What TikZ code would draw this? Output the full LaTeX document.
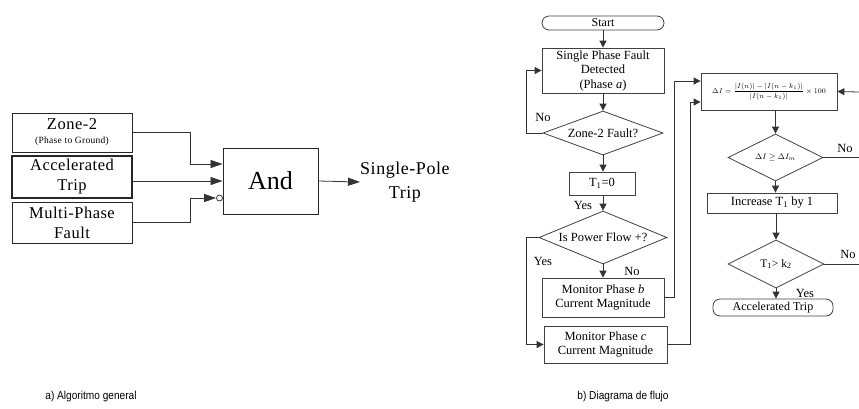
\documentclass[tikz,border=0pt]{standalone}
\usepackage{amsmath}
\usepackage{fontspec}
\setmainfont{Liberation Serif}
\newfontfamily\capfont[FakeStretch=0.88]{Liberation Sans}
\newfontfamily\spfont[LetterSpace=3]{Liberation Serif}
\usetikzlibrary{shapes.geometric,arrows.meta}
\tikzset{
  ln/.style={draw=black!80, line width=0.8pt},
  larr/.style={ln, -{Triangle[length=12pt,width=8pt]}},
  farr/.style={ln, -{Triangle[length=7pt,width=7pt]}},
  lbox/.style={draw=black!85, line width=1pt, rectangle, inner sep=0, align=center, font=\spfont\fontsize{16.5}{20}\selectfont},
  fbox/.style={draw=black!75, line width=0.8pt, rectangle, inner sep=0, align=center, font=\fontsize{12.5}{14.5}\selectfont},
  rbox/.style={fbox, rounded corners=7pt},
  dia/.style={draw=black!75, line width=0.8pt, diamond, inner sep=0, font=\fontsize{12.5}{14.5}\selectfont},
  lab/.style={inner sep=0, font=\fontsize{12.5}{14.5}\selectfont},
  captext/.style={inner sep=0, font=\capfont\fontsize{11.5}{13}\selectfont}
}
\begin{document}
\begin{tikzpicture}[x=1pt,y=-1pt]
\useasboundingbox (0,0) rectangle (859,408);
% ---------- left: general algorithm ----------
\node[lbox, minimum width=120, minimum height=39] (z2) at (72,132.5)
  {Zone-2\\[-6pt]{\fontsize{9.5}{10}\selectfont(Phase to Ground)}};
\node[lbox, line width=1.8pt, minimum width=120, minimum height=42] (acc) at (72,177) {Accelerated\\Trip};
\node[lbox, minimum width=120, minimum height=41] (mp) at (72,222.5) {Multi-Phase\\Fault};
\node[draw=black!85, line width=1pt, rectangle, inner sep=0, minimum width=95, minimum height=66,
  font=\fontsize{26}{28}\selectfont] (and) at (270.5,181) {And};
\node[circle, draw=black!80, line width=0.8pt, minimum size=6, inner sep=0] (neg) at (219.5,198) {};
\node[anchor=west, inner sep=0, align=center, font=\spfont\fontsize{18}{24}\selectfont] (out) at (360,182) {Single-Pole\\Trip};
\draw[larr] (z2.east) -- (190,132.5) |- ([yshift=17pt]and.west);
\draw[larr] (acc.east |- and.west) -- (and.west);
\draw[larr] (mp.east) -- (190,222.5) |- (neg.west);
\draw[larr] (and.east) -- (out.west);
% ---------- right: flow chart ----------
\node[rbox, minimum width=122, minimum height=14, font=\fontsize{12}{13}\selectfont] (start) at (603,23) {Start};
\node[fbox, minimum width=122, minimum height=45] (spf) at (603,70.5) {Single Phase Fault\\Detected\\(Phase \textit{a})};
\node[dia, aspect=2.73, minimum width=120, minimum height=44] (d1) at (603,133) {Zone-2 Fault?};
\node[fbox, minimum width=66, minimum height=23] (t1) at (602,183.5) {T\textsubscript{1}=0};
\node[dia, aspect=2.42, minimum width=128, minimum height=53] (d2) at (603,237.5) {Is Power Flow +?};
\node[fbox, minimum width=122, minimum height=39] (mb) at (603,297.5) {Monitor Phase \textit{b}\\Current Magnitude};
\node[fbox, minimum width=123, minimum height=37] (mc) at (605.5,344.5) {Monitor Phase \textit{c}\\Current Magnitude};
\node[fbox, minimum width=136, minimum height=37, font=\fontsize{7.5}{8}\selectfont] (di) at (769,91.5)
  {$\Delta I=\dfrac{\left|I(n)\right|-\left|I(n-k_1)\right|}{\left|I(n-k_1)\right|}\times 100$};
\node[dia, aspect=2.02, minimum width=95, minimum height=47, font=\fontsize{8}{9}\selectfont] (d3) at (775.5,157.5) {$\Delta I\geq\Delta I_m$};
\node[fbox, minimum width=130, minimum height=20] (inc) at (772,203) {Increase T\textsubscript{1} by 1};
\node[dia, aspect=2, minimum width=96, minimum height=48, font=\fontsize{11.5}{13}\selectfont] (d4) at (776,264) {T\textsubscript{1}> k\textsubscript{2}};
\node[rbox, minimum width=120, minimum height=17, font=\fontsize{12}{13}\selectfont] (at) at (773,307.5) {Accelerated Trip};
\coordinate (e1) at (859,92);
\coordinate (e2) at (859,157.5);
\coordinate (e3) at (859,264);
\draw[farr] (start.south) -- (spf.north);
\draw[farr] (spf.south) -- (d1.north);
\draw[farr] (d1.west) -- (526,133) |- (spf.west);
\draw[farr] (d1.south) -- (t1.north -| d1.south);
\draw[farr] (t1.south -| d2.north) -- (d2.north);
\draw[farr] (d2.south) -- (mb.north);
\draw[farr] (d2.west) -- (526,237.5) |- (mc.west);
\draw[farr] (mb.east) -- (674,297.5) |- ([yshift=10.5pt]di.west);
\draw[farr] (mc.east) -- (690,344.5) |- ([yshift=-10.5pt]di.west);
\draw[farr] (e1) -- (di.east);
\draw[farr] (di.south -| d3.north) -- (d3.north);
\draw[ln] (d3.east) -- (e2);
\draw[farr] (d3.south) -- (inc.north -| d3.south);
\draw[farr] (inc.south -| d4.north) -- (d4.north);
\draw[ln] (d4.east) -- (e3);
\draw[farr] (d4.south) -- (at.north -| d4.south);
\node[lab] at (543,117) {No};
\node[lab] at (583,205) {Yes};
\node[lab] at (632,271) {No};
\node[lab] at (543,261) {Yes};
\node[lab] at (845,148) {No};
\node[lab] at (848,254) {No};
\node[lab] at (805,293) {Yes};
% ---------- captions ----------
\node[captext] at (91,397) {a) Algoritmo general};
\node[captext] at (623,397) {b) Diagrama de flujo};
\end{tikzpicture}
\end{document}
